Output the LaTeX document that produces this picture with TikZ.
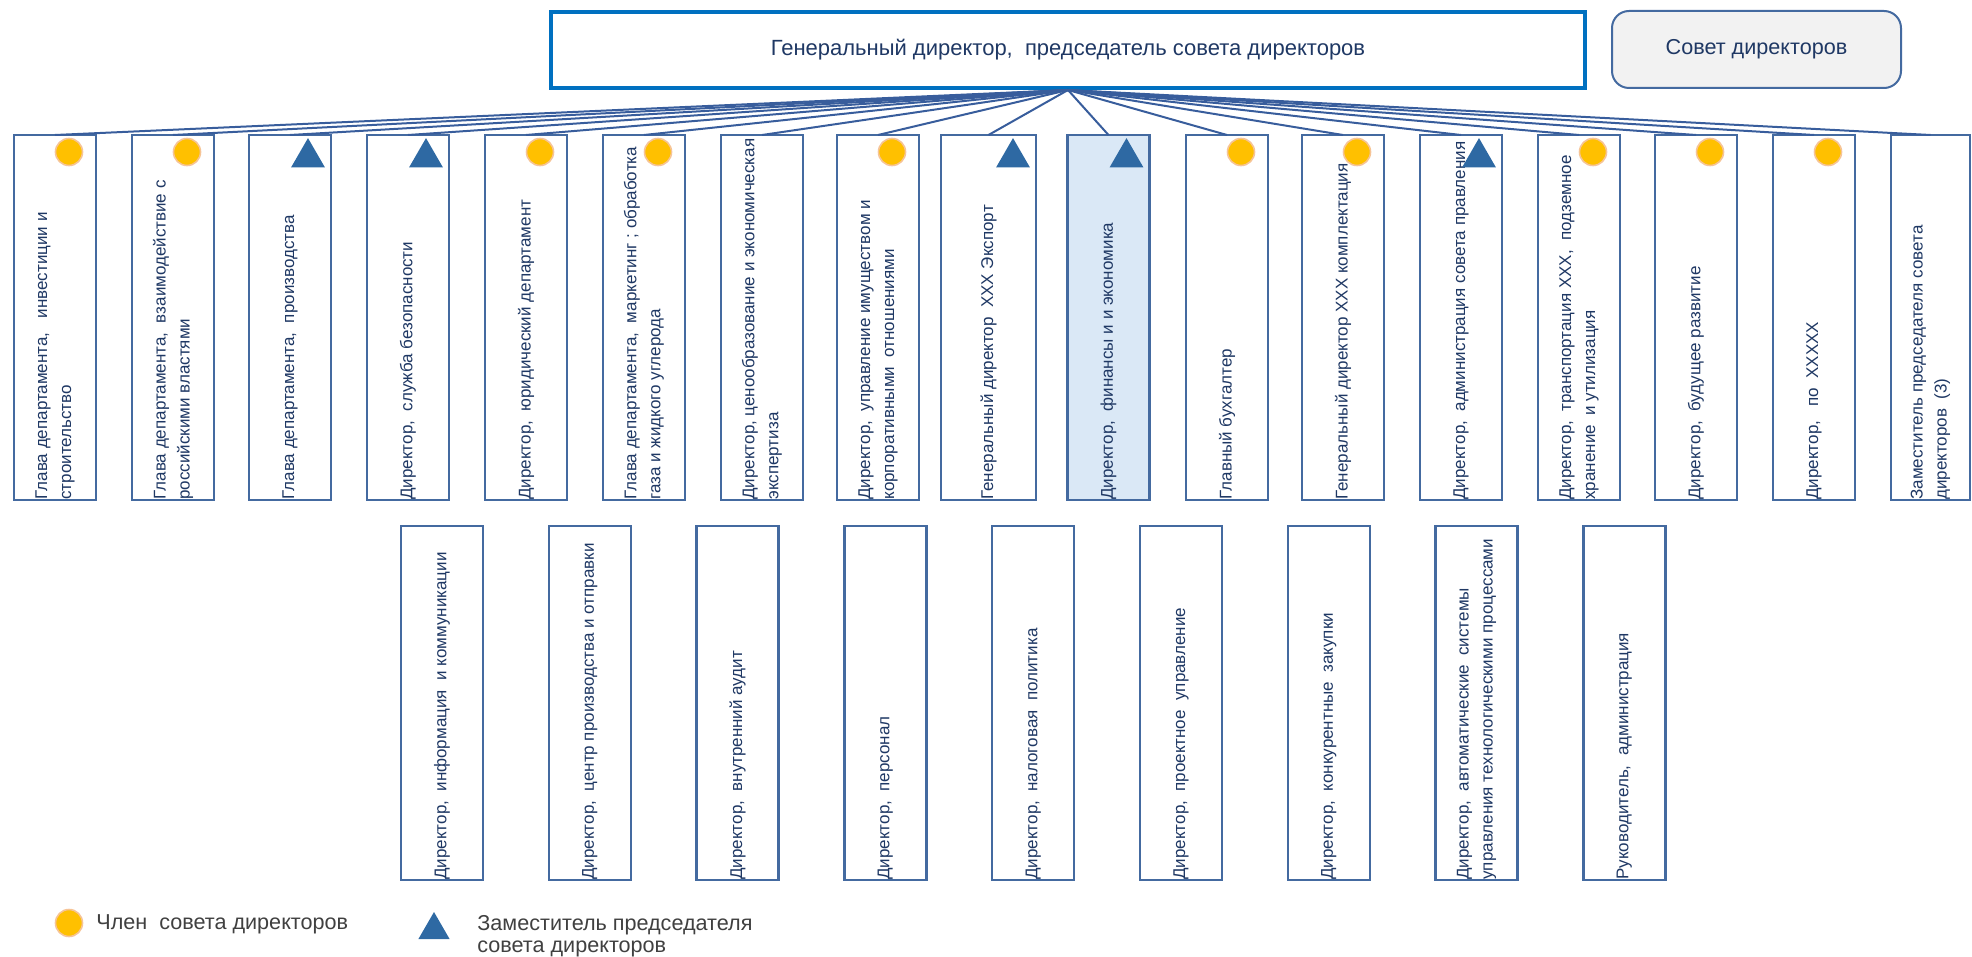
\documentclass[tikz,border=0pt]{standalone}
\usepackage{fontspec}
\setmainfont{Liberation Sans}
\usetikzlibrary{calc,shapes.geometric}
\definecolor{boxline}{RGB}{68,106,160}
\definecolor{fanline}{RGB}{56,93,156}
\definecolor{titleblue}{RGB}{0,112,192}
\definecolor{navytext}{RGB}{31,56,100}
\definecolor{hifill}{RGB}{218,232,246}
\definecolor{gold}{RGB}{255,192,0}
\definecolor{goldedge}{RGB}{246,196,150}
\definecolor{tri}{RGB}{46,105,163}
\definecolor{legtext}{RGB}{64,64,64}
\definecolor{sovetfill}{RGB}{242,242,242}
\tikzset{
  orgbox/.style={draw=boxline, line width=1.2pt, fill=white, minimum width=41pt, minimum height=182.5pt, inner sep=0pt, outer sep=0pt},
  subbox/.style={orgbox, minimum height=177pt},
  hibox/.style={fill=hifill},
  boxtext/.style={rotate=90, anchor=west, align=left, inner sep=0pt, text=navytext, font=\fontsize{8.5}{12}\selectfont},
  member/.style={circle, fill=gold, draw=goldedge, line width=0.8pt, minimum size=13.5pt, inner sep=0pt},
  deputy/.style={regular polygon, regular polygon sides=3, fill=tri, minimum size=19.5pt, inner sep=0pt},
  fan/.style={draw=fanline, line width=1pt},
  legendtext/.style={anchor=west, align=left, inner sep=0pt, text=legtext, font=\fontsize{10.8}{11}\selectfont},
}
\begin{document}
\begin{tikzpicture}[x=0.5pt,y=-0.5pt]
\useasboundingbox (0,0) rectangle (1972,957);

% top
\node[draw=titleblue, line width=2pt, minimum width=517pt, minimum height=38pt, inner sep=0pt, text=navytext, font=\fontsize{11}{13}\selectfont] (gd) at (1068,50) {Генеральный директор,~ председатель совета директоров};
\node[draw=boxline, fill=sovetfill, rounded corners=8.5pt, line width=1pt, minimum width=144.5pt, minimum height=38.5pt, inner sep=0pt, text=navytext, font=\fontsize{10.8}{12}\selectfont] (sd) at (1756.5,49.5) {Совет директоров};

% first row
\node[orgbox] (t1) at (55,317.5) {};
\node[orgbox] (t2) at (173,317.5) {};
\node[orgbox] (t3) at (290,317.5) {};
\node[orgbox] (t4) at (408,317.5) {};
\node[orgbox] (t5) at (526,317.5) {};
\node[orgbox] (t6) at (644,317.5) {};
\node[orgbox] (t7) at (762,317.5) {};
\node[orgbox] (t8) at (878,317.5) {};
\node[orgbox, minimum width=47.5pt] (t9) at (988.5,317.5) {};
\node[orgbox, hibox] (t10) at (1108.5,317.5) {};
\node[orgbox] (t11) at (1227,317.5) {};
\node[orgbox] (t12) at (1343,317.5) {};
\node[orgbox] (t13) at (1461,317.5) {};
\node[orgbox] (t14) at (1579,317.5) {};
\node[orgbox] (t15) at (1696,317.5) {};
\node[orgbox] (t16) at (1814,317.5) {};
\node[orgbox, minimum width=39.5pt] (t17) at (1930.5,317.5) {};

\foreach \k in {1,...,17} { \draw[fan] (gd.south) -- (t\k.north); }

\node[boxtext] (t1l) at (t1.south) {Глава департамента,~~ инвестиции и\\строительство};
\node[boxtext] (t2l) at (t2.south) {Глава департамента,~ взаимодействие с\\российскими властями};
\node[boxtext] (t3l) at (t3.south) {Глава департамента,~ производства};
\node[boxtext] (t4l) at (t4.south) {Директор,~ служба безопасности};
\node[boxtext] (t5l) at (t5.south) {Директор,~ юридический департамент};
\node[boxtext] (t6l) at (t6.south) {Глава департамента,~ маркетинг ; обработка\\газа и жидкого углерода};
\node[boxtext] (t7l) at (t7.south) {Директор, ценообразование и экономическая\\экспертиза};
\node[boxtext] (t8l) at (t8.south) {Директор,~ управление имуществом и\\корпоративными~ отношениями};
\node[boxtext] (t9l) at (t9.south) {Генеральный директор~ XXX Экспорт};
\node[boxtext] (t10l) at (t10.south) {Директор,~ финансы и и экономика};
\node[boxtext] (t11l) at (t11.south) {Главный бухгалтер};
\node[boxtext] (t12l) at (t12.south) {Генеральный директор XXX комплектация};
\node[boxtext] (t13l) at (t13.south) {Директор,~ администрация совета правления};
\node[boxtext] (t14l) at (t14.south) {Директор,~ транспортация XXX,~ подземное\\хранение~ и утилизация};
\node[boxtext] (t15l) at (t15.south) {Директор,~ будущее развитие};
\node[boxtext] (t16l) at (t16.south) {Директор,~~ по~ XXXXX};
\node[boxtext] (t17l) at (t17.south) {Заместитель председателя совета\\директоров~ (3)};

% markers
\foreach \k in {1,2,5,6,8,11,12,14,15,16} { \node[member] (t\k m) at ($(t\k.north east)+(-27,17)$) {}; }
\foreach \k in {3,4,9,10,13} { \node[deputy] (t\k m) at ($(t\k.north east)+(-23,22.6)$) {}; }

% second row
\node[subbox] (b1) at (442,703) {};
\node[subbox] (b2) at (589.8,703) {};
\node[subbox] (b3) at (737.6,703) {};
\node[subbox] (b4) at (885.4,703) {};
\node[subbox] (b5) at (1033.2,703) {};
\node[subbox] (b6) at (1181,703) {};
\node[subbox] (b7) at (1328.8,703) {};
\node[subbox] (b8) at (1476.6,703) {};
\node[subbox] (b9) at (1624.4,703) {};

\node[boxtext] (b1l) at (b1.south) {Директор,~ информация~ и коммуникации};
\node[boxtext] (b2l) at (b2.south) {Директор,~ центр производства и отправки};
\node[boxtext] (b3l) at (b3.south) {Директор,~ внутренний аудит};
\node[boxtext] (b4l) at (b4.south) {Директор,~ персонал};
\node[boxtext] (b5l) at (b5.south) {Директор,~ налоговая~ политика};
\node[boxtext] (b6l) at (b6.south) {Директор,~ проектное~ управление};
\node[boxtext] (b7l) at (b7.south) {Директор,~ конкурентные~ закупки};
\node[boxtext] (b8l) at (b8.south) {Директор,~ автоматические~ системы\\управления технологическими процессами};
\node[boxtext] (b9l) at (b9.south) {Руководитель,~ администрация};

% legend
\node[member, minimum size=13.5pt] (lg1) at (69,923) {};
\node[legendtext] (lg1t) at (96,924) {Член~ совета директоров};
\node[deputy, minimum size=18pt] (lg2) at (434,930) {};
\node[legendtext] (lg2t) at (477,936) {Заместитель председателя\\совета директоров};
\end{tikzpicture}
\end{document}
